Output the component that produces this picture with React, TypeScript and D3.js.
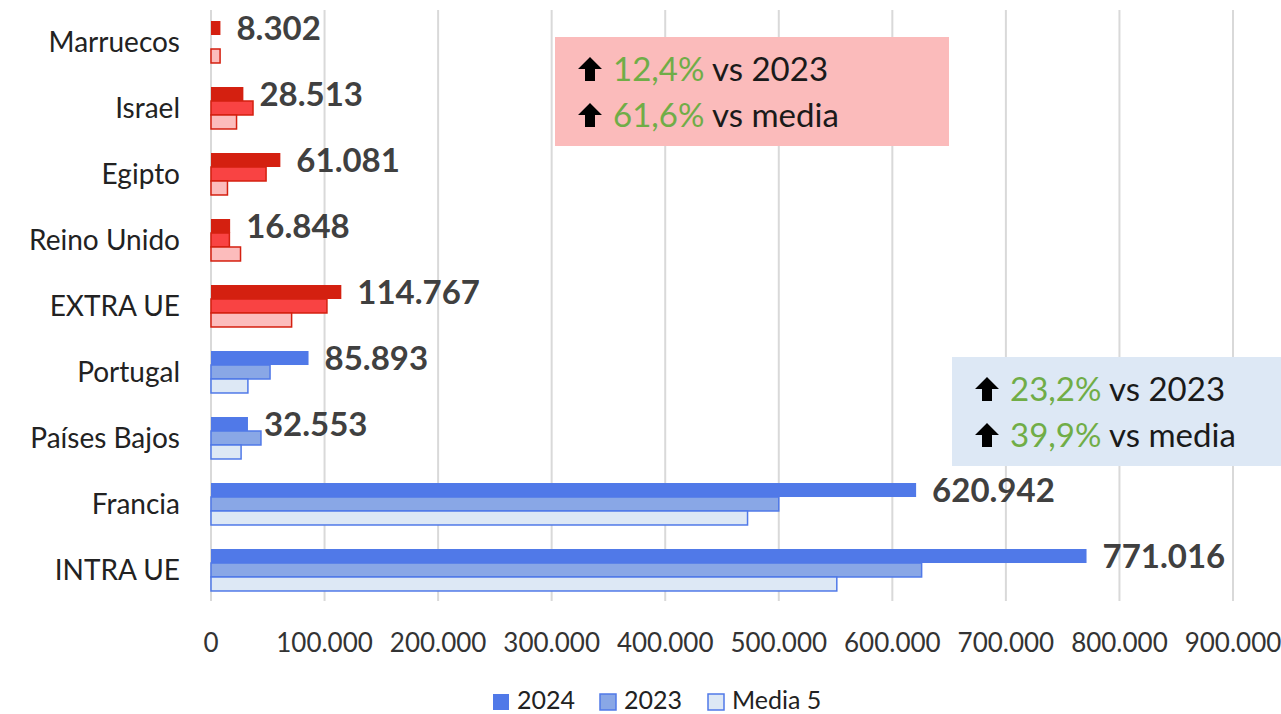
import React from "react";
import * as d3 from "d3";

const categories = ["Marruecos", "Israel", "Egipto", "Reino Unido", "EXTRA UE", "Portugal", "Países Bajos", "Francia", "INTRA UE"];
const redGroup = ["Marruecos", "Israel", "Egipto", "Reino Unido", "EXTRA UE"];
const series = ["2024", "2023", "Media 5"];
const values2024 = [8302, 28513, 61081, 16848, 114767, 85893, 32553, 620942, 771016];
const values2023 = [0, 37000, 48500, 16200, 102100, 52000, 44000, 500000, 625800];
const valuesMedia = [8000, 22500, 14500, 26000, 71000, 32500, 26500, 472500, 551100];
const labels2024 = ["8.302", "28.513", "61.081", "16.848", "114.767", "85.893", "32.553", "620.942", "771.016"];
const xTicks = [0, 100000, 200000, 300000, 400000, 500000, 600000, 700000, 800000, 900000];
const notes = [
  { pct: ["12,4%", "61,6%"], against: ["vs 2023", "vs media"] },
  { pct: ["23,2%", "39,9%"], against: ["vs 2023", "vs media"] },
];

const W = 1281, H = 714;
const FONT = "Lato, 'Noto Sans', sans-serif";

const blue = { fill: ["#5079E8", "#89A7E6", "#DDE8F5"], stroke: "#5079E8" };
const red = { fill: ["#D42010", "#F94343", "#FCBCBC"], stroke: "#D42010" };

const fmt = (v: number) => (v === 0 ? "0" : d3.format(",")(v).replace(/,/g, "."));

function Arrow({ x, y }: { x: number; y: number }) {
  // up arrow glyph, x,y = bottom-left
  const p = d3.path();
  p.moveTo(x + 12, y - 24);
  p.lineTo(x + 24, y - 12);
  p.lineTo(x + 17, y - 12);
  p.lineTo(x + 17, y);
  p.lineTo(x + 7, y);
  p.lineTo(x + 7, y - 12);
  p.lineTo(x, y - 12);
  p.closePath();
  return <path d={p.toString()} fill="#000" />;
}

export default function App() {
  const x = d3.scaleLinear().domain([0, 900000]).range([211, 1233]);
  const y = d3.scaleBand<string>().domain(categories).range([9, 603]).paddingInner(0.364).paddingOuter(0.182);
  const ys = d3.scaleBand<string>().domain(series).range([0, y.bandwidth()]);
  const rows = categories.map((c, i) => ({ c, vals: [values2024[i], values2023[i], valuesMedia[i]], label: labels2024[i] }));

  const boxes = [
    { x: 555, y: 37, w: 394, h: 109, fill: "#FBBBBB", note: notes[0] },
    { x: 952, y: 357, w: 329, h: 109, fill: "#DDE8F5", note: notes[1] },
  ];

  const legendX = [493, 600, 708];

  return (
    <svg width={W} height={H} style={{ position: "absolute", left: 0, top: 0, background: "#fff" }} fontFamily={FONT}>
      {xTicks.map((t) => (
        <line key={t} x1={x(t)} x2={x(t)} y1={10} y2={601} stroke="#D9D9D9" strokeWidth={2} />
      ))}
      {xTicks.map((t) => (
        <text key={"t" + t} x={x(t)} y={652} textAnchor="middle" fontSize={26} fill="#333">
          {fmt(t)}
        </text>
      ))}
      {rows.map((r) => {
        const pal = redGroup.includes(r.c) ? red : blue;
        const y0 = y(r.c)!;
        return (
          <g key={r.c}>
            {r.vals.map((v, j) =>
              v > 0 ? (
                <rect
                  key={j}
                  x={x(0)}
                  y={y0 + ys(series[j])!}
                  width={x(v) - x(0)}
                  height={ys.bandwidth()}
                  fill={pal.fill[j]}
                  stroke={j === 0 ? "none" : pal.stroke}
                  strokeWidth={1.5}
                />
              ) : null
            )}
            <text x={x(r.vals[0]) + 16} y={y0 + ys("2024")! + ys.bandwidth() / 2} dy="0.36em" fontSize={33} fontWeight="bold" fill="#404040">
              {r.label}
            </text>
            <text x={180} y={y0 + y.bandwidth() / 2} dy="0.36em" textAnchor="end" fontSize={28} fill="#222">
              {r.c}
            </text>
          </g>
        );
      })}
      {boxes.map((b, i) => (
        <g key={i}>
          <rect x={b.x} y={b.y} width={b.w} height={b.h} fill={b.fill} />
          {[0, 1].map((k) => (
            <g key={k}>
              <Arrow x={b.x + 23} y={b.y + 44 + k * 46} />
              <text x={b.x + 58} y={b.y + 44 + k * 46} fontSize={33}>
                <tspan fill="#70AD47">{b.note.pct[k]}</tspan>
                <tspan fill="#1a1a1a"> {b.note.against[k]}</tspan>
              </text>
            </g>
          ))}
        </g>
      ))}
      {series.map((s, j) => (
        <g key={s}>
          <rect x={legendX[j]} y={694} width={16} height={16} fill={blue.fill[j]} stroke={blue.stroke} strokeWidth={j === 0 ? 0 : 1.5} />
          <text x={legendX[j] + 24} y={709} fontSize={25} fill="#222">
            {s}
          </text>
        </g>
      ))}
    </svg>
  );
}
